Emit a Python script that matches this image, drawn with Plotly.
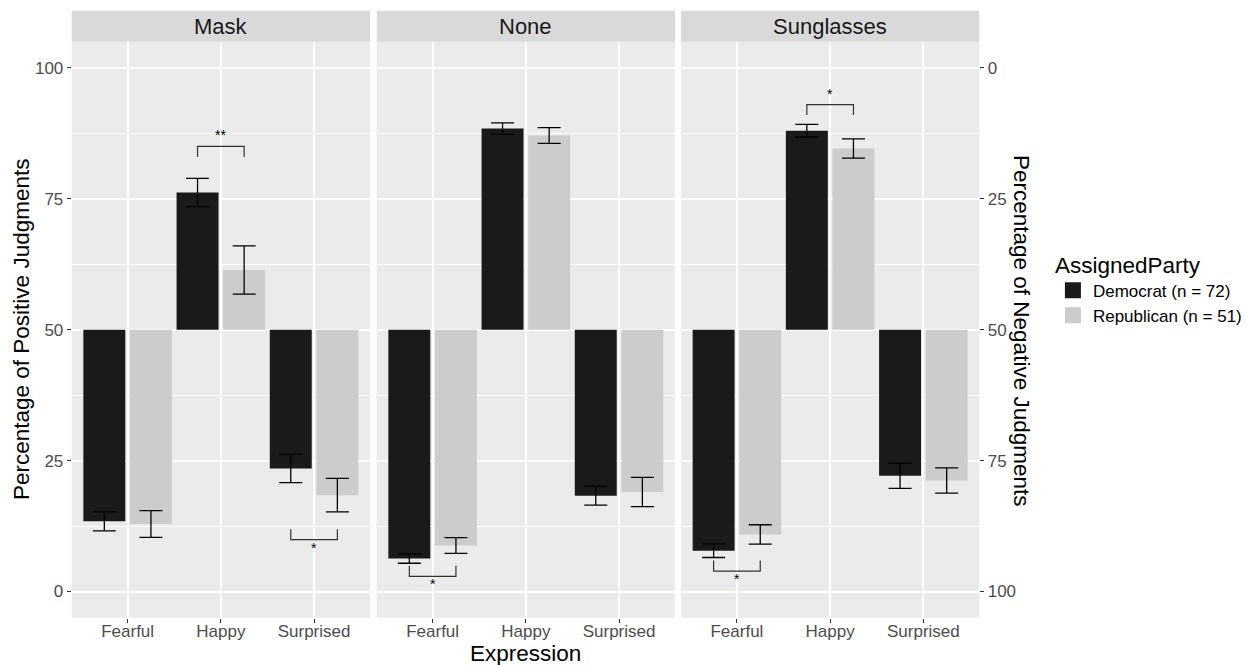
import plotly.graph_objects as go

# ---------------- data ----------------
panels = ["Mask", "None", "Sunglasses"]
expressions = ["Fearful", "Happy", "Surprised"]
parties = ["Democrat (n = 72)", "Republican (n = 51)"]

# mean percentage of positive judgments, per panel, per expression
dem_values = {
    "Mask":       [13.4, 76.2, 23.5],
    "None":       [6.3, 88.4, 18.3],
    "Sunglasses": [7.8, 88.0, 22.1],
}
rep_values = {
    "Mask":       [12.9, 61.4, 18.4],
    "None":       [8.8, 87.1, 19.0],
    "Sunglasses": [10.9, 84.6, 21.2],
}
dem_errors = {
    "Mask":       [1.8, 2.7, 2.7],
    "None":       [0.9, 1.1, 1.8],
    "Sunglasses": [1.3, 1.2, 2.4],
}
rep_errors = {
    "Mask":       [2.55, 4.6, 3.2],
    "None":       [1.5, 1.5, 2.8],
    "Sunglasses": [1.85, 1.85, 2.4],
}
# significance brackets: (panel, expression, bracket level, direction, label)
sig_panels = ["Mask", "Mask", "None", "Sunglasses", "Sunglasses"]
sig_expr = ["Happy", "Surprised", "Fearful", "Happy", "Fearful"]
sig_level = [85.0, 9.9, 2.9, 93.0, 3.9]
sig_dir = ["up", "down", "down", "up", "down"]
sig_label = ["**", "*", "*", "*", "*"]

left_ticks = [0, 25, 50, 75, 100]
right_ticks = [0, 25, 50, 75, 100]

# ---------------- style ----------------
FONT = "Liberation Sans, Arial, sans-serif"
DEM_COLOR = "#1A1A1A"
REP_COLOR = "#CCCCCC"
W, H = 1249, 665
x_domains = [[71.7 / W, 370.0 / W], [376.7 / W, 675.0 / W], [681.0 / W, 979.3 / W]]
y_domain = [(H - 617.7) / H, (H - 41.7) / H]
strip_top = (H - 10.7) / H

fig = go.Figure()

for pi, panel in enumerate(panels):
    xa = "x" if pi == 0 else f"x{pi + 1}"
    ya = "y" if pi == 0 else f"y{pi + 1}"
    cats = [i + 1 for i in range(len(expressions))]
    for vals, errs, color, shift, name in [
        (dem_values[panel], dem_errors[panel], DEM_COLOR, -0.25, parties[0]),
        (rep_values[panel], rep_errors[panel], REP_COLOR, 0.25, parties[1]),
    ]:
        xs = [c + shift for c in cats]
        fig.add_trace(go.Bar(
            x=xs, y=[v - 50 for v in vals], base=50, width=0.45,
            marker=dict(color=color, line=dict(width=0)),
            name=name, showlegend=False, hoverinfo="skip",
            xaxis=xa, yaxis=ya,
        ))
        fig.add_trace(go.Scatter(
            x=xs, y=vals, mode="markers",
            marker=dict(size=1, color="rgba(0,0,0,0)"),
            error_y=dict(type="data", array=errs, visible=True,
                         color="black", thickness=1.3, width=11.5),
            showlegend=False, hoverinfo="skip", xaxis=xa, yaxis=ya,
        ))

# significance brackets
for p, e, lvl, d, lab in zip(sig_panels, sig_expr, sig_level, sig_dir, sig_label):
    pi = panels.index(p)
    xa = "x" if pi == 0 else f"x{pi + 1}"
    ya = "y" if pi == 0 else f"y{pi + 1}"
    c = expressions.index(e) + 1
    tick = -2.0 if d == "up" else 2.0
    fig.add_trace(go.Scatter(
        x=[c - 0.25, c - 0.25, c + 0.25, c + 0.25],
        y=[lvl + tick, lvl, lvl, lvl + tick],
        mode="lines", line=dict(color="#333333", width=1.2),
        showlegend=False, hoverinfo="skip", xaxis=xa, yaxis=ya,
    ))
    fig.add_annotation(
        x=c, y=lvl + (2.1 if d == "up" else -1.5), xref=xa, yref=ya,
        text=lab, showarrow=False, font=dict(family=FONT, size=14, color="black"),
        xanchor="center", yanchor="middle",
    )

# legend entries
for name, color in zip(parties, [DEM_COLOR, REP_COLOR]):
    fig.add_trace(go.Scatter(
        x=[None], y=[None], mode="markers", name=name,
        marker=dict(symbol="square", size=16, color=color),
        xaxis="x3", yaxis="y3",
    ))

# dummy trace for right axis
fig.add_trace(go.Scatter(x=[None], y=[None], showlegend=False, xaxis="x3", yaxis="y4"))

axis_common = dict(
    showgrid=True, gridcolor="white", gridwidth=1.6, zeroline=False,
    ticks="outside", ticklen=4, tickcolor="#333333", tickwidth=1,
    tickfont=dict(family=FONT, size=17, color="#4D4D4D"),
    showline=False,
)
layout = dict(
    width=W, height=H,
    margin=dict(l=0, r=0, t=0, b=0),
    paper_bgcolor="white", plot_bgcolor="#EBEBEB",
    barmode="overlay",
    font=dict(family=FONT, color="black"),
    showlegend=True,
    legend=dict(
        title=dict(text="AssignedParty", font=dict(family=FONT, size=22.5, color="black")),
        font=dict(family=FONT, size=17, color="black"),
        x=0.843, y=0.634, xanchor="left", yanchor="top",
        bgcolor="rgba(0,0,0,0)", itemsizing="trace", tracegroupgap=0,
    ),
)
for pi in range(3):
    xk = "xaxis" if pi == 0 else f"xaxis{pi + 1}"
    yk = "yaxis" if pi == 0 else f"yaxis{pi + 1}"
    layout[xk] = dict(
        axis_common, domain=x_domains[pi], range=[0.4, 3.6],
        tickvals=[1, 2, 3], ticktext=expressions,
        anchor="y" if pi == 0 else f"y{pi + 1}",
        ticklabelstandoff=-6,
    )
    ydict = dict(
        axis_common, domain=y_domain, range=[-5, 105],
        tickvals=left_ticks, ticktext=[str(t) for t in left_ticks],
        anchor="x" if pi == 0 else f"x{pi + 1}",
        minor=dict(tickvals=[12.5, 37.5, 62.5, 87.5], showgrid=True,
                   gridcolor="white", gridwidth=0.8, ticks=""),
    )
    if pi > 0:
        ydict.update(showticklabels=False, ticks="", matches="y")
    layout[yk] = ydict
layout["yaxis4"] = dict(
    axis_common, showgrid=False, domain=y_domain, range=[105, -5],
    tickvals=right_ticks, ticktext=[str(t) for t in right_ticks],
    overlaying="y3", side="right", anchor="x3",
)
fig.update_layout(**layout)

# facet strips
for pi, panel in enumerate(panels):
    xr = "x domain" if pi == 0 else f"x{pi + 1} domain"
    fig.add_shape(type="rect", xref=xr, yref="paper", x0=0, x1=1,
                  y0=y_domain[1], y1=strip_top, fillcolor="#D9D9D9",
                  line=dict(width=0), layer="below")
    fig.add_annotation(xref=xr, yref="paper", x=0.5, y=(y_domain[1] + strip_top) / 2,
                       text=panel, showarrow=False, xanchor="center", yanchor="middle",
                       font=dict(family=FONT, size=22, color="#1A1A1A"))

# axis titles
fig.add_annotation(xref="paper", yref="paper", x=21 / W, y=(H - 330) / H,
                   text="Percentage of Positive Judgments", textangle=-90,
                   showarrow=False, xanchor="center", yanchor="middle",
                   font=dict(family=FONT, size=22.5, color="black"))
fig.add_annotation(xref="paper", yref="paper", x=1022 / W, y=(H - 330) / H,
                   text="Percentage of Negative Judgments", textangle=90,
                   showarrow=False, xanchor="center", yanchor="middle",
                   font=dict(family=FONT, size=22.5, color="black"))
fig.add_annotation(xref="paper", yref="paper", x=525.5 / W, y=(H - 653) / H,
                   text="Expression", showarrow=False, xanchor="center", yanchor="middle",
                   font=dict(family=FONT, size=22.5, color="black"))

fig.write_html("out.html")
